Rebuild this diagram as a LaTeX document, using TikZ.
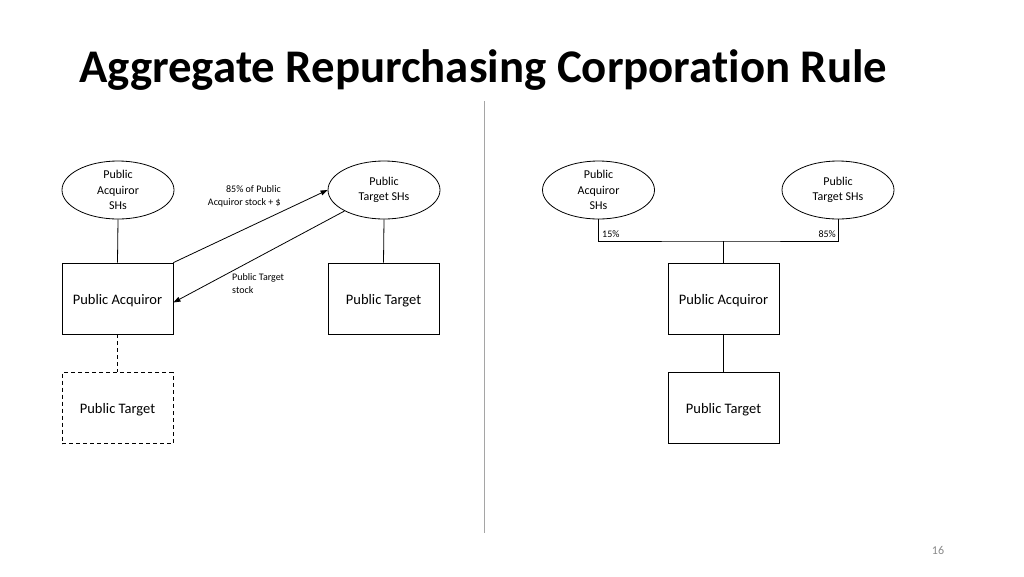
\documentclass[tikz,border=0pt]{standalone}
\usepackage{fontspec}
\setmainfont{Carlito}
\usetikzlibrary{shapes.geometric,arrows.meta,calc}
\definecolor{divgray}{RGB}{165,165,165}
\definecolor{numgray}{RGB}{137,137,137}
\tikzset{
  shnode/.style={ellipse,draw,line width=0.8pt,minimum width=112pt,minimum height=58pt,inner sep=0pt,align=center,font=\fontsize{12}{15.5}\selectfont},
  boxnode/.style={rectangle,draw,line width=0.8pt,minimum width=111pt,minimum height=71pt,inner sep=0pt,text height=15pt,text depth=3.5pt,align=center,font=\fontsize{14.5}{17}\selectfont},
  dashbox/.style={boxnode,dash pattern=on 4pt off 3pt},
  conn/.style={line width=0.8pt},
  arr/.style={line width=0.8pt,-{Triangle[length=7pt,width=5pt]}},
  small/.style={inner sep=0pt,font=\fontsize{10}{13}\selectfont},
}
\begin{document}
\begin{tikzpicture}[x=1pt,y=-1pt]
\useasboundingbox (0,0) rectangle (1024,576);
% title
\node[anchor=base west,inner sep=0pt,font=\fontsize{46.8}{52}\selectfont\bfseries\addfontfeatures{Ligatures=NoCommon}] (title) at (79,82) {Aggregate Repurchasing Corporation Rule};
% divider
\draw[divgray,line width=1pt] (484,101) -- (484,533);
% left side
\node[shnode] (las) at (118,190) {Public\\Acquiror\\SHs};
\node[shnode] (lts) at (384,190) {Public\\Target SHs};
\node[boxnode] (lpa) at (117.5,298.5) {Public Acquiror};
\node[boxnode] (lpt) at (383.5,298.5) {Public Target};
\node[dashbox] (ldt) at (117.5,408) {Public Target};
\draw[conn] (las.south) -- (lpa.north);
\draw[conn] (lts.south) -- (lpt.north);
\draw[conn,dash pattern=on 4pt off 3pt] (lpa.south) -- (ldt.north);
\draw[arr] (lpa.north east) -- (lts.west);
\draw[arr] (lts.208) -- ([yshift=-4pt]lpa.east);
\node[small,anchor=east,align=right] (l85) at (281,196.5) {85\% of Public\\Acquiror stock + \$};
\node[small,anchor=west,align=left] (lpts) at (232,283.5) {Public Target\\stock};
% right side
\node[shnode] (ras) at (598.5,190) {Public\\Acquiror\\SHs};
\node[shnode] (rts) at (838,190) {Public\\Target SHs};
\node[boxnode] (rpa) at (723.5,298.5) {Public Acquiror};
\node[boxnode] (rpt) at (723.5,408) {Public Target};
\coordinate (jn) at (723.5,241);
\draw[conn] (ras.south) |- (jn) -| (rts.south);
\draw[conn] (jn) -- (rpa.north);
\draw[conn] (rpa.south) -- (rpt.north);
\node[small,anchor=base west] (p15) at (602,237.5) {15\%};
\node[small,anchor=base east] (p85) at (836,237.5) {85\%};
% page number
\node[numgray,inner sep=0pt,font=\fontsize{12}{14}\selectfont] (pg) at (938,550) {16};
\end{tikzpicture}
\end{document}
